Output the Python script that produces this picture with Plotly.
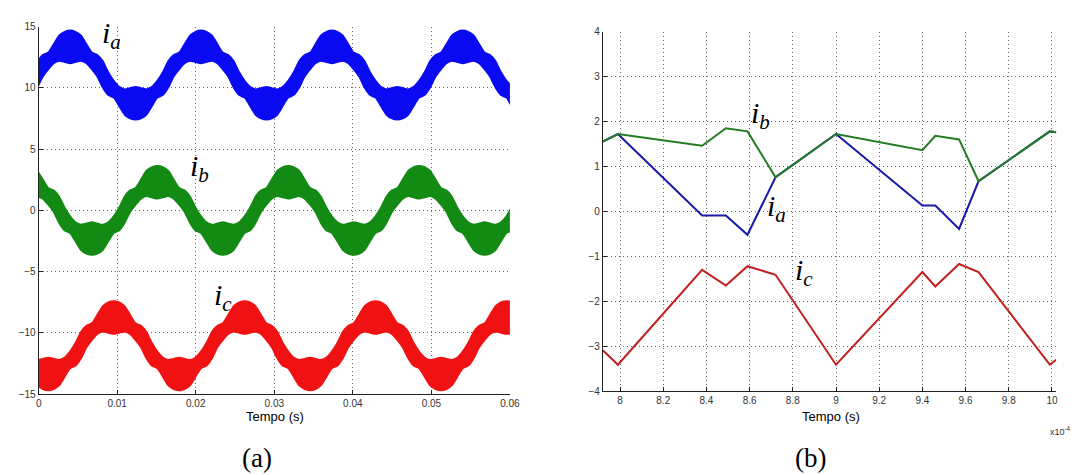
import plotly.graph_objects as go

# ---------------- Panel (a): phase currents (band = upper/lower envelope), time in ms ----------------
a_t = [-0.17, 0.53, 1.22, 1.92, 2.61, 3.31, 4.00, 4.69, 5.39, 6.08, 6.78, 7.47, 8.17, 8.86, 9.56, 10.25,
       10.94, 11.64, 12.33, 13.03, 13.72, 14.42, 15.11, 15.81, 16.50, 17.19, 17.89, 18.58, 19.28, 19.97,
       20.67, 21.36, 22.06, 22.75, 23.44, 24.14, 24.83, 25.53, 26.22, 26.92, 27.61, 28.31, 29.00, 29.69,
       30.39, 31.08, 31.78, 32.47, 33.17, 33.86, 34.56, 35.25, 35.94, 36.64, 37.33, 38.03, 38.72, 39.42,
       40.11, 40.81, 41.50, 42.19, 42.89, 43.58, 44.28, 44.97, 45.67, 46.36, 47.06, 47.75, 48.44, 49.14,
       49.83, 50.53, 51.22, 51.92, 52.61, 53.31, 54.00, 54.69, 55.39, 56.08, 56.78, 57.47, 58.17, 58.86,
       59.56, 60.25]

ia_up = [12.2, 12.7, 12.9, 13.6, 14.3, 14.6,
         14.7, 14.6, 14.3, 13.6, 12.9, 12.7, 12.2, 11.3, 10.6, 10.1, 9.9, 10.0, 10.1, 10.0, 9.9, 10.1, 10.6, 11.3, 12.2, 12.7, 12.9, 13.6, 14.3, 14.6,
         14.7, 14.6, 14.3, 13.6, 12.9, 12.7, 12.2, 11.3, 10.6, 10.1, 9.9, 10.0, 10.1, 10.0, 9.9, 10.1, 10.6, 11.3, 12.2, 12.7, 12.9, 13.6, 14.3, 14.6,
         14.7, 14.6, 14.3, 13.6, 12.9, 12.7, 12.2, 11.3, 10.6, 10.1, 9.9, 10.0, 10.1, 10.0, 9.9, 10.1, 10.6, 11.3, 12.2, 12.7, 12.9, 13.6, 14.3, 14.6,
         14.7, 14.6, 14.3, 13.6, 12.9, 12.7, 12.2, 11.3, 10.6, 10.1]
ia_lo = [10.0, 10.9, 11.5, 12.0, 12.2, 12.1,
         12.0, 12.1, 12.2, 12.0, 11.5, 10.9, 10.0, 9.4, 9.2, 8.5, 7.8, 7.5, 7.4, 7.5, 7.8, 8.5, 9.2, 9.4, 10.0, 10.9, 11.5, 12.0, 12.2, 12.1,
         12.0, 12.1, 12.2, 12.0, 11.5, 10.9, 10.0, 9.4, 9.2, 8.5, 7.8, 7.5, 7.4, 7.5, 7.8, 8.5, 9.2, 9.4, 10.0, 10.9, 11.5, 12.0, 12.2, 12.1,
         12.0, 12.1, 12.2, 12.0, 11.5, 10.9, 10.0, 9.4, 9.2, 8.5, 7.8, 7.5, 7.4, 7.5, 7.8, 8.5, 9.2, 9.4, 10.0, 10.9, 11.5, 12.0, 12.2, 12.1,
         12.0, 12.1, 12.2, 12.0, 11.5, 10.9, 10.0, 9.4, 9.2, 8.5]

ib_up = [3.25, 2.55, 1.85, 1.65, 1.15, 0.25, -0.45, -0.95, -1.15, -1.05, -0.95, -1.05, -1.15, -0.95, -0.45, 0.25, 1.15, 1.65, 1.85, 2.55, 3.25, 3.55,
         3.65, 3.55, 3.25, 2.55, 1.85, 1.65, 1.15, 0.25, -0.45, -0.95, -1.15, -1.05, -0.95, -1.05, -1.15, -0.95, -0.45, 0.25, 1.15, 1.65, 1.85, 2.55, 3.25, 3.55,
         3.65, 3.55, 3.25, 2.55, 1.85, 1.65, 1.15, 0.25, -0.45, -0.95, -1.15, -1.05, -0.95, -1.05, -1.15, -0.95, -0.45, 0.25, 1.15, 1.65, 1.85, 2.55, 3.25, 3.55,
         3.65, 3.55, 3.25, 2.55, 1.85, 1.65, 1.15, 0.25, -0.45, -0.95, -1.15, -1.05, -0.95, -1.05, -1.15, -0.95, -0.45, 0.25]
ib_lo = [1.15, 0.95, 0.45, -0.15, -1.05, -1.65, -1.85, -2.55, -3.25, -3.55, -3.65, -3.55, -3.25, -2.55, -1.85, -1.65, -1.05, -0.15, 0.45, 0.95, 1.15, 1.05,
         0.95, 1.05, 1.15, 0.95, 0.45, -0.15, -1.05, -1.65, -1.85, -2.55, -3.25, -3.55, -3.65, -3.55, -3.25, -2.55, -1.85, -1.65, -1.05, -0.15, 0.45, 0.95, 1.15, 1.05,
         0.95, 1.05, 1.15, 0.95, 0.45, -0.15, -1.05, -1.65, -1.85, -2.55, -3.25, -3.55, -3.65, -3.55, -3.25, -2.55, -1.85, -1.65, -1.05, -0.15, 0.45, 0.95, 1.15, 1.05,
         0.95, 1.05, 1.15, 0.95, 0.45, -0.15, -1.05, -1.65, -1.85, -2.55, -3.25, -3.55, -3.65, -3.55, -3.25, -2.55, -1.85, -1.65]

ic_up = [-12.2, -12.1, -12.0, -12.1, -12.2, -12.0, -11.5, -10.8, -9.9, -9.4, -9.2, -8.5, -7.8, -7.5,
         -7.4, -7.5, -7.8, -8.5, -9.2, -9.4, -9.9, -10.8, -11.5, -12.0, -12.2, -12.1, -12.0, -12.1, -12.2, -12.0, -11.5, -10.8, -9.9, -9.4, -9.2, -8.5, -7.8, -7.5,
         -7.4, -7.5, -7.8, -8.5, -9.2, -9.4, -9.9, -10.8, -11.5, -12.0, -12.2, -12.1, -12.0, -12.1, -12.2, -12.0, -11.5, -10.8, -9.9, -9.4, -9.2, -8.5, -7.8, -7.5,
         -7.4, -7.5, -7.8, -8.5, -9.2, -9.4, -9.9, -10.8, -11.5, -12.0, -12.2, -12.1, -12.0, -12.1, -12.2, -12.0, -11.5, -10.8, -9.9, -9.4, -9.2, -8.5, -7.8, -7.5,
         -7.4, -7.5]
ic_lo = [-14.3, -14.6, -14.7, -14.6, -14.3, -13.6, -12.9, -12.7, -12.1, -11.2, -10.6, -10.1, -9.9, -10.0,
         -10.1, -10.0, -9.9, -10.1, -10.6, -11.2, -12.1, -12.7, -12.9, -13.6, -14.3, -14.6, -14.7, -14.6, -14.3, -13.6, -12.9, -12.7, -12.1, -11.2, -10.6, -10.1, -9.9, -10.0,
         -10.1, -10.0, -9.9, -10.1, -10.6, -11.2, -12.1, -12.7, -12.9, -13.6, -14.3, -14.6, -14.7, -14.6, -14.3, -13.6, -12.9, -12.7, -12.1, -11.2, -10.6, -10.1, -9.9, -10.0,
         -10.1, -10.0, -9.9, -10.1, -10.6, -11.2, -12.1, -12.7, -12.9, -13.6, -14.3, -14.6, -14.7, -14.6, -14.3, -13.6, -12.9, -12.7, -12.1, -11.2, -10.6, -10.1, -9.9, -10.0,
         -10.1, -10.0]

for arr in (ia_up, ia_lo, ib_up, ib_lo, ic_up, ic_lo):
    assert len(arr) == len(a_t), (len(arr), len(a_t))

a_xticks = [0, 0.01, 0.02, 0.03, 0.04, 0.05, 0.06]
a_xlabels = ["0", "0.01", "0.02", "0.03", "0.04", "0.05", "0.06"]
a_yticks = [-15, -10, -5, 0, 5, 10, 15]

# ---------------- Panel (b): zoom, time in 1e-4 s ----------------
b_t = [7.92, 7.99, 8.38, 8.49, 8.59, 8.72, 9.00, 9.40, 9.46, 9.57, 9.66, 9.99, 10.02]
b_ib = [1.55, 1.72, 1.46, 1.85, 1.78, 0.76, 1.72, 1.36, 1.68, 1.60, 0.67, 1.78, 1.76]
b_ia = [1.55, 1.72, -0.09, -0.09, -0.52, 0.76, 1.72, 0.13, 0.13, -0.39, 0.67, 1.78, 1.76]
b_ic = [-3.09, -3.41, -1.30, -1.65, -1.22, -1.41, -3.41, -1.35, -1.67, -1.17, -1.35, -3.41, -3.30]

b_xticks = [8, 8.2, 8.4, 8.6, 8.8, 9, 9.2, 9.4, 9.6, 9.8, 10]
b_xlabels = ["8", "8.2", "8.4", "8.6", "8.8", "9", "9.2", "9.4", "9.6", "9.8", "10"]
b_yticks = [-4, -3, -2, -1, 0, 1, 2, 3, 4]

fig = go.Figure()
ts = [v / 1000.0 for v in a_t]


def band(up, lo, color):
    fig.add_trace(go.Scatter(
        x=ts + ts[::-1], y=up + lo[::-1], fill="toself", fillcolor=color,
        line=dict(color=color, width=1.5, shape="spline", smoothing=0.6),
        mode="lines", xaxis="x", yaxis="y", showlegend=False, hoverinfo="skip"))


band(ia_up, ia_lo, "#0a0af2")
band(ib_up, ib_lo, "#138a13")
band(ic_up, ic_lo, "#f01212")

fig.add_trace(go.Scatter(x=b_t, y=b_ia, mode="lines", line=dict(color="#1a1aa8", width=2),
                         xaxis="x2", yaxis="y2", showlegend=False))
fig.add_trace(go.Scatter(x=b_t, y=b_ib, mode="lines", line=dict(color="#237c23", width=2),
                         xaxis="x2", yaxis="y2", showlegend=False))
fig.add_trace(go.Scatter(x=b_t, y=b_ic, mode="lines", line=dict(color="#c02020", width=2),
                         xaxis="x2", yaxis="y2", showlegend=False))

W, H = 1080, 475
tickfont = dict(family="Liberation Sans, Arial, sans-serif", size=10, color="#333")
grid = dict(showgrid=True, gridcolor="#666", griddash="1px,3px", gridwidth=1, zeroline=False,
            showline=True, linecolor="#222", linewidth=1, ticks="inside", ticklen=4,
            tickcolor="#222", tickfont=tickfont)

fig.update_layout(
    width=W, height=H, margin=dict(l=0, r=0, t=0, b=0),
    paper_bgcolor="white", plot_bgcolor="white",
    xaxis=dict(domain=[28 / W, 505 / W], range=[0, 0.06], tickvals=a_xticks, ticktext=a_xlabels,
               anchor="y", **grid),
    yaxis=dict(domain=[1 - 390 / H, 1 - 13 / H], range=[-15, 15], tickvals=a_yticks,
               anchor="x", **grid),
    xaxis2=dict(domain=[599 / W, 1058 / W], range=[7.92, 10.02], tickvals=b_xticks,
                ticktext=b_xlabels, anchor="y2", **grid),
    yaxis2=dict(domain=[1 - 387 / H, 1 - 18 / H], range=[-4, 4], tickvals=b_yticks,
                anchor="x2", **grid),
)

serif = "Liberation Serif, DejaVu Serif, serif"
lab = dict(family=serif, size=30, color="black")
ann = []


def pix(x, y, text, font, xanchor="center", yanchor="middle"):
    ann.append(dict(x=x / W, y=1 - y / H, xref="paper", yref="paper", text=text, showarrow=False,
                    font=font, xanchor=xanchor, yanchor=yanchor))


pix(102, 22, "<i>i</i><sub><i>a</i></sub>", lab)
pix(191, 158, "<i>i</i><sub><i>b</i></sub>", lab)
pix(215, 290, "<i>i</i><sub><i>c</i></sub>", lab)
pix(759, 104, "<i>i</i><sub><i>b</i></sub>", lab)
pix(775, 199, "<i>i</i><sub><i>a</i></sub>", lab)
pix(803, 265, "<i>i</i><sub><i>c</i></sub>", lab)

title_font = dict(family="Liberation Sans, Arial, sans-serif", size=13, color="black")
pix(267, 413, "Tempo (s)", title_font)
pix(830, 413, "Tempo (s)", title_font)
pix(1062, 428, "x10<sup>-4</sup>", dict(family="Liberation Sans, Arial, sans-serif", size=9, color="#333"))

cap = dict(family="Liberation Serif, DejaVu Serif, serif", size=27, color="black")
pix(249, 456, "(a)", cap)
pix(809, 456, "(b)", cap)

fig.update_layout(annotations=ann)
fig.write_html("out.html")
